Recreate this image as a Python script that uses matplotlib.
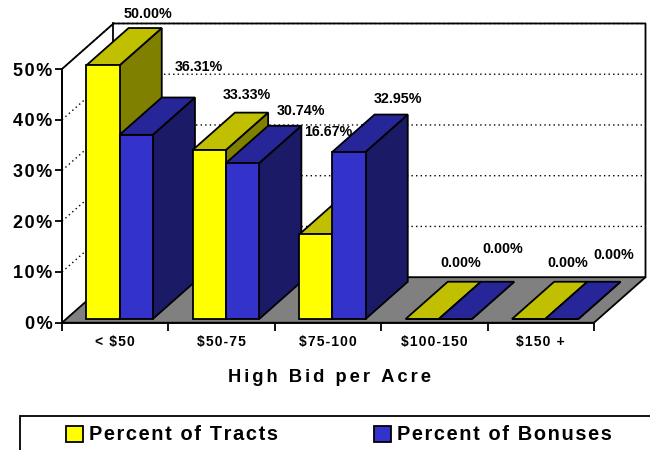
import matplotlib
matplotlib.use('Agg')
import matplotlib.pyplot as plt
from matplotlib.patches import Patch, Polygon, Rectangle

plt.rcParams['font.family'] = ['Liberation Sans', 'DejaVu Sans']
plt.rcParams['font.weight'] = 'bold'

categories = ['< $50', '$50-75', '$75-100', '$100-150', '$150 +']
tracts = [50.00, 33.33, 16.67, 0.00, 0.00]
bonuses = [36.31, 30.74, 32.95, 0.00, 0.00]
y_ticks = [0, 10, 20, 30, 40, 50]
xlabel = 'High Bid per Acre'
legend_labels = ['Percent of Tracts', 'Percent of Bonuses']

# label nudges in pixels, Excel had these placed by hand
tract_nudge = [(3, 14), (-5, 18), (-30, 65), (-4, 19), (-3, 19)]
bonus_nudge = [(20, 31), (16, 15), (7, 16), (5, 33), (10, 27)]

DEPTH_X = 0.484
DEPTH_Y = 8.97
BAR_FRONT = 0.08
BAR_BACK = 0.90
BAR_W = 0.312
BAR_START = 0.19
LW = 1.3


def spaced(s, sep='\u200a'):
    return sep.join(s)


def pt(x, y, d):
    return (x + DEPTH_X * d, y + DEPTH_Y * d)


def face(ax, pts, color, z):
    ax.add_patch(Polygon(pts, closed=True, facecolor=color, edgecolor='black',
                         lw=LW, zorder=z, clip_on=False, joinstyle='miter'))


def bar3d(ax, x, h, front, top, side, z):
    x2 = x + BAR_W
    a, b = BAR_FRONT, BAR_BACK
    face(ax, [pt(x2, 0, a), pt(x2, 0, b), pt(x2, h, b), pt(x2, h, a)], side, z)
    face(ax, [pt(x, h, a), pt(x2, h, a), pt(x2, h, b), pt(x, h, b)], top, z)
    face(ax, [pt(x, 0, a), pt(x2, 0, a), pt(x2, h, a), pt(x, h, a)], front, z)


fig = plt.figure(figsize=(6.5, 4.5), dpi=100)
ax = fig.add_axes([62 / 650, (450 - 322.7) / 450, 532 / 650, 253.7 / 450])
ax.set_xlim(0, 5)
ax.set_ylim(0, 50)
ax.patch.set_visible(False)
ax.spines['top'].set_visible(False)
ax.spines['right'].set_visible(False)
ax.spines['left'].set_linewidth(LW)
ax.spines['bottom'].set_linewidth(LW)
ax.spines['left'].set_zorder(20)
ax.spines['bottom'].set_zorder(20)

# floor and walls
face(ax, [pt(0, 0, 0), pt(5, 0, 0), pt(5, 0, 1), pt(0, 0, 1)], '#808080', 1)
ax.plot(*zip(pt(0, 0, 0), pt(0, 50, 0), pt(0, 50, 1), pt(5, 50, 1), pt(5, 0, 1)),
        color='black', lw=LW, zorder=2, clip_on=False)
ax.plot(*zip(pt(0, 0, 1), pt(0, 50, 1)), color='black', lw=LW, zorder=2, clip_on=False)
for v in y_ticks[1:]:
    ax.plot(*zip(pt(0, v, 0), pt(0, v, 1), pt(5, v, 1)), color='black', lw=1.0,
            dashes=(1, 2.3), zorder=2, clip_on=False)

for i in range(len(categories)):
    x = i + BAR_START
    bar3d(ax, x, tracts[i], '#FFFF00', '#C0C000', '#808000', 5 + 2 * i)
    bar3d(ax, x + BAR_W, bonuses[i], '#3333CC', '#262699', '#1A1A66', 6 + 2 * i)
    for x0, v, nudge in [(x, tracts[i], tract_nudge[i]), (x + BAR_W, bonuses[i], bonus_nudge[i])]:
        ax.annotate('%.2f%%' % v, xy=pt(x0 + BAR_W / 2, v, BAR_BACK), xytext=nudge,
                    textcoords='offset pixels', ha='center', va='center',
                    fontsize=10.3, annotation_clip=False, zorder=30)

ax.set_yticks(y_ticks)
ax.set_yticklabels([spaced('%d%%' % v) for v in y_ticks], fontsize=13)
ax.tick_params(axis='y', length=5, width=LW, pad=2)
ax.set_xticks(range(len(categories) + 1))
ax.set_xticklabels([])
ax.tick_params(axis='x', which='major', length=6, width=LW)
ax.set_xticks([i + 0.5 for i in range(len(categories))], minor=True)
ax.set_xticklabels([spaced(c) for c in categories], minor=True, fontsize=10)
ax.tick_params(axis='x', which='minor', length=0, pad=8.5)
ax.set_xlabel(spaced(xlabel, '\u200a\u200a'), fontsize=13.2, labelpad=15, fontweight='bold', x=0.503)

# legend box runs off the bottom right of the picture
fig.add_artist(Rectangle((20 / 650, -0.1), 0.99, 0.1 + (450 - 415.5) / 450, facecolor='white',
                         edgecolor='black', lw=LW, transform=fig.transFigure))
handles = [Patch(facecolor='#FFFF00', edgecolor='black', lw=LW),
           Patch(facecolor='#3333CC', edgecolor='black', lw=LW)]
fig.legend(handles, [spaced(s) for s in legend_labels], frameon=False, ncols=2,
           loc='center left', bbox_to_anchor=(66 / 650, (450 - 435) / 450), fontsize=14.4,
           handlelength=0.85, handleheight=0.85, handletextpad=0.3, columnspacing=4.8,
           borderpad=0, borderaxespad=0)

fig.savefig('out.png', dpi=100)
